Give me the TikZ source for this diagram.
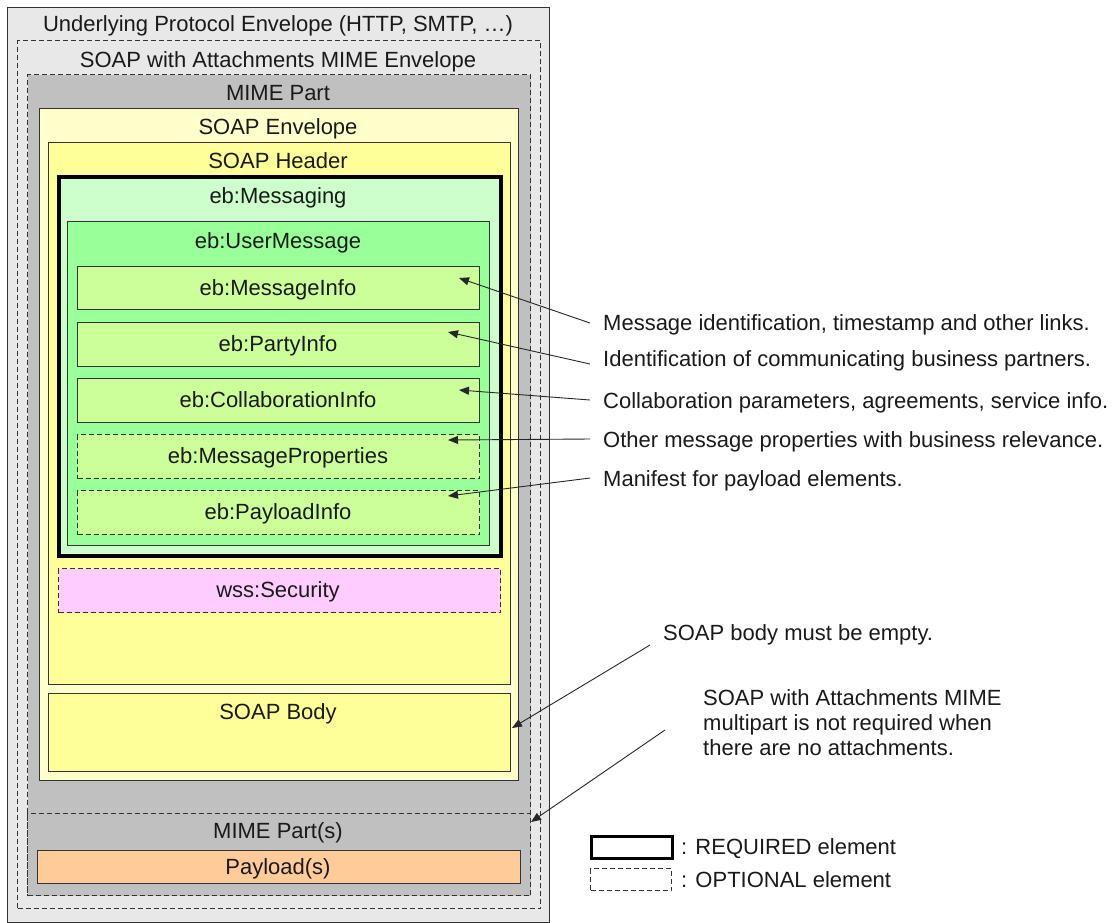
\documentclass[tikz,border=0pt]{standalone}
\usepackage{fontspec}
\setmainfont{Liberation Sans}
\usetikzlibrary{arrows.meta}
\definecolor{protogray}{HTML}{E8E8E8}
\definecolor{mimegray}{HTML}{C0C0C0}
\definecolor{envyellow}{HTML}{FFFFCC}
\definecolor{hdryellow}{HTML}{FFFF99}
\definecolor{msggreen}{HTML}{CCFFCC}
\definecolor{umgreen}{HTML}{99FF99}
\definecolor{partgreen}{HTML}{CCFF99}
\definecolor{secpink}{HTML}{FFCCFF}
\definecolor{payorange}{HTML}{FFCC99}
\definecolor{ink}{HTML}{1A1A1A}
\begin{document}
\begin{tikzpicture}[x=1pt,y=-1pt,
  every node/.style={font=\fontsize{22}{25}\selectfont, text=ink},
  frame/.style={draw=black!80, line width=1.2pt, inner sep=0pt, anchor=north west},
  optional/.style={frame, dashed, dash pattern=on 5pt off 3pt},
  required/.style={frame, draw=black, line width=3.6pt},
  title/.style={anchor=base, inner sep=0pt},
  note/.style={anchor=base west, inner sep=0pt},
  pointer/.style={draw=black!85, line width=0.9pt, -{Triangle[length=10pt,width=8pt]}}]
\useasboundingbox (0,0) rectangle (1117,922);

% nested envelopes
\node[frame, fill=protogray, minimum width=542pt, minimum height=915pt] (proto) at (7,7) {};
\node[optional, minimum width=523pt, minimum height=868pt] (swa) at (17,40) {};
\node[optional, fill=mimegray, minimum width=503pt, minimum height=821pt] (mime) at (27,74) {};
\node[frame, fill=envyellow, minimum width=479pt, minimum height=672pt] (env) at (39,108) {};
\node[frame, fill=hdryellow, minimum width=462pt, minimum height=542pt] (hdr) at (48,142) {};
\node[required, fill=msggreen, minimum width=442pt, minimum height=379pt] (msg) at (57,175) {};
\node[frame, fill=umgreen, minimum width=422pt, minimum height=324pt] (um) at (67,221) {};
\node[frame, fill=partgreen, minimum width=402pt, minimum height=43pt] (mi) at (77,266) {};
\node[frame, fill=partgreen, minimum width=402pt, minimum height=44pt] (pi) at (77,322) {};
\node[frame, fill=partgreen, minimum width=402pt, minimum height=44pt] (ci) at (77,378) {};
\node[optional, fill=partgreen, minimum width=402pt, minimum height=44pt] (mp) at (77,434) {};
\node[optional, fill=partgreen, minimum width=402pt, minimum height=44pt] (pl) at (77,490) {};
\node[optional, fill=secpink, minimum width=442pt, minimum height=44pt] (sec) at (58,568) {};
\node[frame, fill=hdryellow, minimum width=462pt, minimum height=78pt] (body) at (48,693) {};
\node[optional, fill=mimegray, minimum width=503pt, minimum height=82pt] (parts) at (27,813) {};
\node[frame, fill=payorange, minimum width=483pt, minimum height=33pt] (payload) at (37,850) {};

% box titles (placed on their baselines)
\node[title] (tproto) at (278,31) {Underlying Protocol Envelope (HTTP, SMTP, \dots)};
\node[title] (tswa) at (278,67) {SOAP with Attachments MIME Envelope};
\node[title] (tmime) at (278,100) {MIME Part};
\node[title] (tenv) at (278,134) {SOAP Envelope};
\node[title] (thdr) at (278,168) {SOAP Header};
\node[title] (tmsg) at (278,203) {eb:Messaging};
\node[title] (tum) at (278,248) {eb:UserMessage};
\node[title] (tmi) at (278,295) {eb:MessageInfo};
\node[title] (tpi) at (278,351) {eb:PartyInfo};
\node[title] (tci) at (278,407) {eb:CollaborationInfo};
\node[title] (tmp) at (278,463) {eb:MessageProperties};
\node[title] (tpl) at (278,519) {eb:PayloadInfo};
\node[title] (tsec) at (278,597) {wss:Security};
\node[title] (tbody) at (278,719) {SOAP Body};
\node[title] (tparts) at (278,838) {MIME Part(s)};
\node[title] (tpayload) at (278,874) {Payload(s)};

% annotations
\node[note] (n1) at (603,330) {Message identification, timestamp and other links.};
\node[note] (n2) at (603,366) {Identification of communicating business partners.};
\node[note] (n3) at (603,408) {Collaboration parameters, agreements, service info.};
\node[note] (n4) at (603,447) {Other message properties with business relevance.};
\node[note] (n5) at (603,486) {Manifest for payload elements.};
\node[note] (n6) at (663,640) {SOAP body must be empty.};
\node[note] (n7a) at (703,705) {SOAP with Attachments MIME};
\node[note] (n7b) at (703,730) {multipart is not required when};
\node[note] (n7c) at (703,755) {there are no attachments.};

\coordinate (s1) at (590,323);
\coordinate (s2) at (590,364);
\coordinate (s3) at (590,400);
\coordinate (s4) at (590,439);
\coordinate (s5) at (590,478);
\coordinate (s6) at (650,645);
\coordinate (s7) at (665,730);
\coordinate (e1) at (459,278);
\coordinate (e2) at (448,332);
\coordinate (e3) at (459,390);
\coordinate (e4) at (448,440);
\coordinate (e5) at (448,496);
\coordinate (e6) at (512,728);
\coordinate (e7) at (531,822);

\draw[pointer] (s1) -- (e1);
\draw[pointer] (s2) -- (e2);
\draw[pointer] (s3) -- (e3);
\draw[pointer] (s4) -- (e4);
\draw[pointer] (s5) -- (e5);
\draw[pointer] (s6) -- (e6);
\draw[pointer] (s7) -- (e7);

% legend
\node[frame, draw=black, line width=3pt, minimum width=81pt, minimum height=22pt] (lreq) at (590,835) {};
\node[optional, minimum width=81pt, minimum height=22pt] (lopt) at (590,868) {};
\node[note] (treq) at (681,854) {: REQUIRED element};
\node[note] (topt) at (681,887) {: OPTIONAL element};
\end{tikzpicture}
\end{document}
